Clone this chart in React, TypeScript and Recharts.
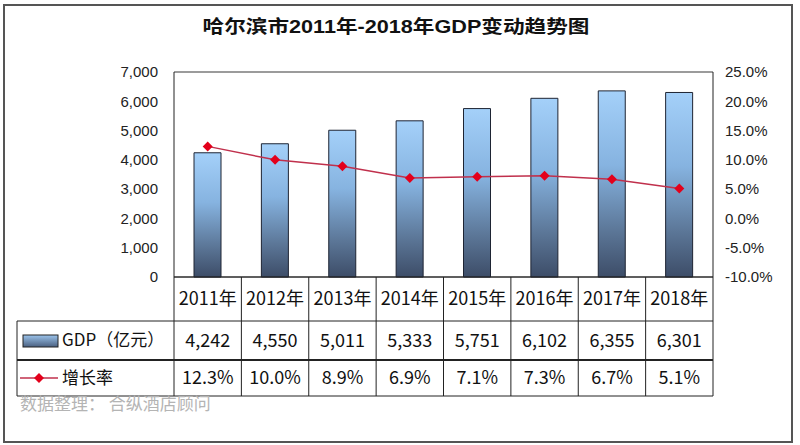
import { ComposedChart, Bar, Line, XAxis, YAxis, CartesianGrid } from 'recharts';

const years = ['2011年', '2012年', '2013年', '2014年', '2015年', '2016年', '2017年', '2018年'];
const gdp = [4242, 4550, 5011, 5333, 5751, 6102, 6355, 6301];
const growth = [12.3, 10.0, 8.9, 6.9, 7.1, 7.3, 6.7, 5.1];
const gdpTicks = [0, 1000, 2000, 3000, 4000, 5000, 6000, 7000];
const rateTicks = [-10, -5, 0, 5, 10, 15, 20, 25];

const data = years.map((year, i) => ({ year, gdp: gdp[i], growth: growth[i] }));

const W = 800;
const H = 445;
const PLOT_LEFT = 174;
const PLOT_RIGHT = 713;
const PLOT_TOP = 72;
const PLOT_BOTTOM = 277;
const BAND = (PLOT_RIGHT - PLOT_LEFT) / years.length;
const ROW1 = 321;
const ROW2 = 360;
const ROW3 = 396;
const TABLE_LEFT = 17;
const LEFT_AXIS_W = 60;
const RIGHT_AXIS_W = 70;
const X_AXIS_H = 120;

const tableFont = "'Noto Sans CJK SC', sans-serif";
const axisFont = "'Liberation Sans', Arial, sans-serif";
const lineColor = '#c0304c';

const fmtGdp = (v: number) => v.toLocaleString('en-US');
const fmtRate = (v: number) => `${v.toFixed(1)}%`;

const Diamond = (props: any) => {
  const { cx, cy } = props;
  if (cx == null || cy == null) return null;
  const r = 5;
  return (
    <polygon
      points={`${cx},${cy - r} ${cx + r},${cy} ${cx},${cy + r} ${cx - r},${cy}`}
      fill="#e3001b"
    />
  );
};

// the data table under the plot, drawn one column per category tick
const TableTick = (props: any) => {
  const { x, payload } = props;
  const i = payload.index;
  const left = x - BAND / 2;
  const txt = { fontFamily: tableFont, fontSize: 18, fill: '#111', textAnchor: 'middle' as const };
  return (
    <g>
      <line x1={left} y1={PLOT_BOTTOM} x2={left} y2={ROW3} stroke="#222" />
      {i === years.length - 1 && (
        <line x1={PLOT_RIGHT} y1={PLOT_BOTTOM} x2={PLOT_RIGHT} y2={ROW3} stroke="#222" />
      )}
      <text x={x} y={(PLOT_BOTTOM + ROW1) / 2} dy="0.35em" {...txt}>
        {payload.value}
      </text>
      <text x={x} y={(ROW1 + ROW2) / 2} dy="0.35em" {...txt}>
        {fmtGdp(gdp[i])}
      </text>
      <text x={x} y={(ROW2 + ROW3) / 2} dy="0.35em" {...txt}>
        {fmtRate(growth[i])}
      </text>
      {i === 0 && (
        <g>
          <line x1={TABLE_LEFT} y1={ROW1} x2={PLOT_RIGHT} y2={ROW1} stroke="#222" />
          <line x1={TABLE_LEFT} y1={ROW2} x2={PLOT_RIGHT} y2={ROW2} stroke="#222" strokeWidth={2} />
          <line x1={TABLE_LEFT} y1={ROW3} x2={PLOT_RIGHT} y2={ROW3} stroke="#222" />
          <line x1={TABLE_LEFT} y1={ROW1} x2={TABLE_LEFT} y2={ROW3} stroke="#222" />
          <rect x={23} y={335} width={35} height={12} fill="url(#legendGrad)" stroke="#222" />
          <text x={62} y={(ROW1 + ROW2) / 2} dy="0.35em" fontFamily={tableFont} fontSize={17} fill="#111">
            GDP（亿元）
          </text>
          <line x1={20} y1={378} x2={58} y2={378} stroke={lineColor} strokeWidth={1.5} />
          <Diamond cx={39} cy={378} />
          <text x={62} y={(ROW2 + ROW3) / 2} dy="0.35em" fontFamily={tableFont} fontSize={17} fill="#111">
            增长率
          </text>
        </g>
      )}
    </g>
  );
};

export default function App() {
  return (
    <div style={{ position: 'absolute', left: 0, top: 0, width: W, height: H, background: '#fff' }}>
      <div
        style={{
          position: 'absolute',
          left: 3,
          top: 4,
          width: 790,
          height: 439,
          border: '2px solid #555',
          boxSizing: 'border-box',
        }}
      />
      <svg style={{ position: 'absolute', left: 0, top: 0 }} width={W} height={60}>
        <text
          x={396}
          y={27}
          dy="0.35em"
          textAnchor="middle"
          fontFamily="'Liberation Sans', 'Noto Sans CJK SC', sans-serif"
          fontWeight="bold"
          fontSize={18}
          fill="#111"
          textLength={387}
          lengthAdjust="spacingAndGlyphs"
        >
          哈尔滨市2011年-2018年GDP变动趋势图
        </text>
      </svg>
      <div style={{ position: 'absolute', left: 0, top: 0 }}>
        <ComposedChart
          width={W}
          height={H}
          data={data}
          margin={{
            top: PLOT_TOP,
            left: PLOT_LEFT - LEFT_AXIS_W,
            right: W - PLOT_RIGHT - RIGHT_AXIS_W,
            bottom: H - PLOT_BOTTOM - X_AXIS_H,
          }}
        >
          <defs>
            <linearGradient id="barGrad" x1="0" y1="0" x2="0" y2="1">
              <stop offset="0%" stopColor="#a4d0f9" />
              <stop offset="40%" stopColor="#86b3e0" />
              <stop offset="75%" stopColor="#5c7798" />
              <stop offset="100%" stopColor="#3d4d68" />
            </linearGradient>
            <linearGradient id="legendGrad" x1="0" y1="0" x2="0" y2="1">
              <stop offset="0%" stopColor="#9cc4ec" />
              <stop offset="100%" stopColor="#4a6080" />
            </linearGradient>
          </defs>
          <CartesianGrid vertical={false} stroke="#222" strokeOpacity={0.9} />
          <XAxis
            dataKey="year"
            height={X_AXIS_H}
            axisLine={{ stroke: '#222' }}
            tickLine={false}
            interval={0}
            tick={<TableTick />}
          />
          <YAxis
            yAxisId="left"
            width={LEFT_AXIS_W}
            domain={[0, 7000]}
            ticks={gdpTicks}
            tickFormatter={fmtGdp}
            axisLine={{ stroke: '#222' }}
            tickLine={false}
            tickSize={0}
            tickMargin={16}
            tick={{ fontFamily: axisFont, fontSize: 15, fill: '#222' }}
          />
          <YAxis
            yAxisId="right"
            orientation="right"
            width={RIGHT_AXIS_W}
            domain={[-10, 25]}
            ticks={rateTicks}
            tickFormatter={fmtRate}
            axisLine={{ stroke: '#222' }}
            tickLine={false}
            tickSize={0}
            tickMargin={12}
            tick={{ fontFamily: axisFont, fontSize: 15, fill: '#222', textAnchor: 'start' }}
          />
          <Bar
            yAxisId="left"
            dataKey="gdp"
            barSize={27}
            fill="url(#barGrad)"
            stroke="#1e2433"
            strokeWidth={1}
            isAnimationActive={false}
          />
          <Line
            yAxisId="right"
            dataKey="growth"
            stroke={lineColor}
            strokeWidth={1.5}
            dot={<Diamond />}
            activeDot={false}
            isAnimationActive={false}
          />
        </ComposedChart>
      </div>
      <div
        style={{
          position: 'absolute',
          left: 20,
          top: 390,
          fontFamily: tableFont,
          fontSize: 17,
          color: '#b4b4b4',
          whiteSpace: 'nowrap',
        }}
      >
        数据整理：&nbsp;合纵酒店顾问
      </div>
    </div>
  );
}
